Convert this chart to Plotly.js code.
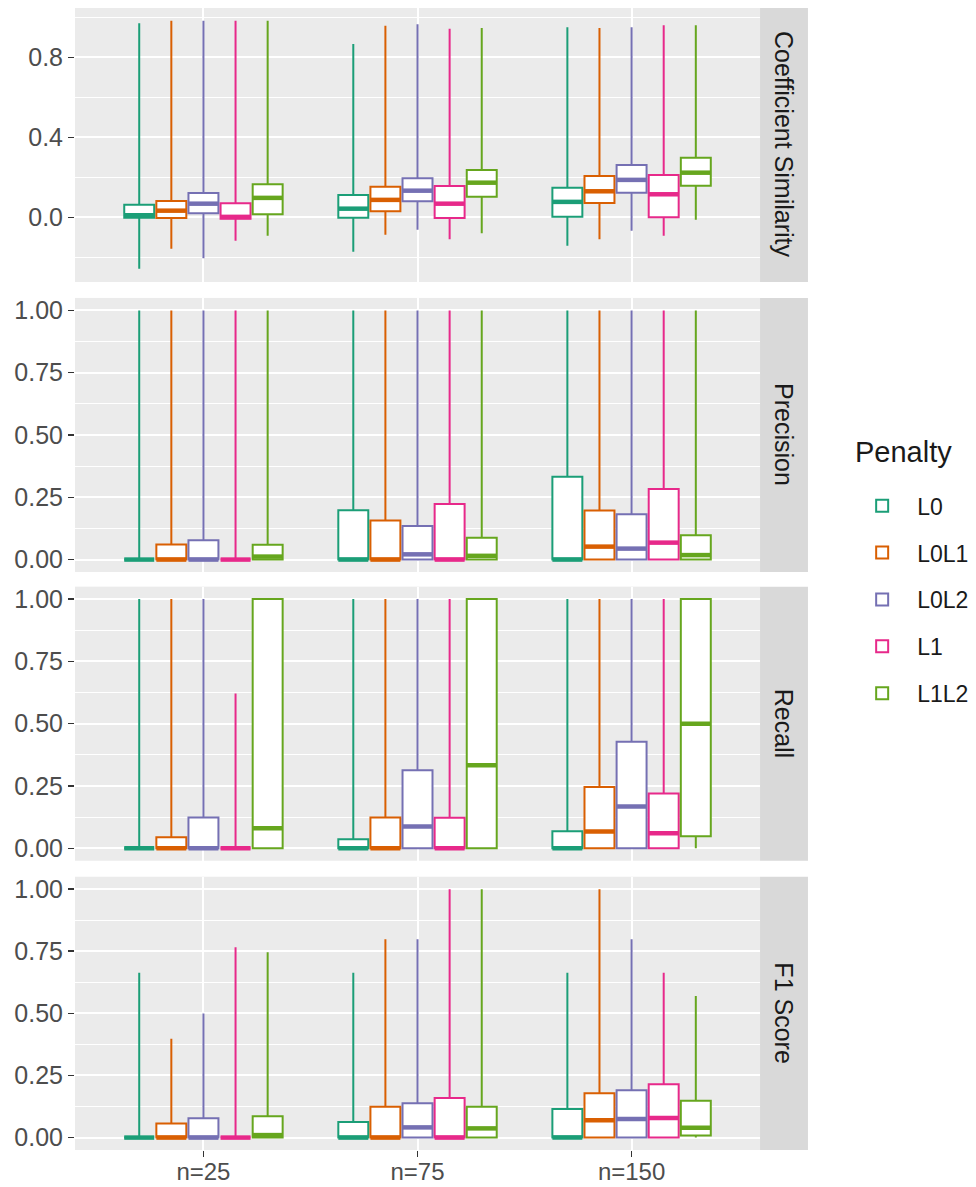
<!DOCTYPE html>
<html>
<head>
<meta charset="utf-8">
<script src="https://cdn.plot.ly/plotly-3.0.1.min.js"></script>
<style>html,body{margin:0;padding:0;background:#fff;}#chart{width:976px;height:1187px;}</style>
</head>
<body>
<div id="chart"></div>
<script>
// ---------------- data ----------------
const groups = ["n=25", "n=75", "n=150"];
const penalties = ["L0", "L0L1", "L0L2", "L1", "L1L2"];
const colors = ["#1B9E77", "#D95F02", "#7570B3", "#E7298A", "#66A61E"];
const metrics = ["Coefficient Similarity", "Precision", "Recall", "F1 Score"];

// rows: penalties (L0, L0L1, L0L2, L1, L1L2); columns: n=25, n=75, n=150
const coefLow  = [[-0.257,-0.172,-0.142],[-0.158,-0.088,-0.110],[-0.205,-0.063,-0.067],[-0.117,-0.110,-0.093],[-0.092,-0.080,-0.013]];
const coefQ1   = [[-0.003,-0.003,0.002],[-0.004,0.030,0.072],[0.020,0.080,0.123],[-0.008,-0.004,0.000],[0.015,0.103,0.158]];
const coefMed  = [[0.010,0.043,0.077],[0.033,0.087,0.130],[0.068,0.133,0.187],[0.002,0.068,0.115],[0.097,0.173,0.223]];
const coefQ3   = [[0.063,0.112,0.148],[0.082,0.153,0.207],[0.122,0.195,0.262],[0.070,0.157,0.212],[0.165,0.237,0.298]];
const coefHigh = [[0.970,0.867,0.950],[0.983,0.958,0.947],[0.983,0.965,0.950],[0.983,0.943,0.960],[0.983,0.947,0.960]];

const precLow  = [[0,0,0],[0,0,0],[0,0,0],[0,0,0],[0,0,0]];
const precQ1   = [[0,0,0],[0,0,0],[0,0,0],[0,0,0],[0,0,0]];
const precMed  = [[0,0,0],[0,0,0.052],[0,0.021,0.044],[0,0,0.068],[0.012,0.015,0.018]];
const precQ3   = [[0,0.198,0.332],[0.060,0.157,0.197],[0.078,0.135,0.182],[0,0.223,0.283],[0.059,0.088,0.098]];
const precHigh = [[1,1,1],[1,1,1],[1,1,1],[1,1,1],[1,1,1]];

const recLow  = [[0,0,0],[0,0,0],[0,0,0],[0,0,0],[0,0,0]];
const recQ1   = [[0,0,0],[0,0,0],[0,0,0],[0,0,0],[0,0,0.048]];
const recMed  = [[0,0,0],[0,0,0.067],[0,0.087,0.168],[0,0,0.060],[0.080,0.333,0.500]];
const recQ3   = [[0,0.036,0.068],[0.044,0.123,0.246],[0.123,0.313,0.428],[0,0.122,0.220],[1,1,1]];
const recHigh = [[1,1,1],[1,1,1],[1,1,1],[0.621,1,1],[1,1,1]];

const f1Low  = [[0,0,0],[0,0,0],[0,0,0],[0,0,0],[0,0,0]];
const f1Q1   = [[0,0,0],[0,0,0],[0,0,0],[0,0,0],[0,0,0.008]];
const f1Med  = [[0,0,0],[0,0,0.070],[0,0.041,0.075],[0,0,0.079],[0.010,0.037,0.040]];
const f1Q3   = [[0,0.063,0.115],[0.057,0.124,0.178],[0.078,0.138,0.191],[0,0.159,0.215],[0.086,0.124,0.148]];
const f1High = [[0.663,0.663,0.663],[0.398,0.798,1.000],[0.499,0.798,0.798],[0.766,1.000,0.663],[0.746,1.000,0.570]];

const coefTicks = [0, 0.4, 0.8];
const coefTickText = ["0.0", "0.4", "0.8"];
const rateTicks = [0, 0.25, 0.5, 0.75, 1];
const rateTickText = ["0.00", "0.25", "0.50", "0.75", "1.00"];
const legendTitle = "Penalty";

// ---------------- layout helpers ----------------
const stats = [
  {low: coefLow, q1: coefQ1, med: coefMed, q3: coefQ3, high: coefHigh},
  {low: precLow, q1: precQ1, med: precMed, q3: precQ3, high: precHigh},
  {low: recLow,  q1: recQ1,  med: recMed,  q3: recQ3,  high: recHigh},
  {low: f1Low,   q1: f1Q1,   med: f1Med,   q3: f1Q3,   high: f1High}
];
const yDomains = [[0.7601, 1.0], [0.5061, 0.7461], [0.2533, 0.4933], [0.0, 0.2393]];
const yRanges = [[-0.3235, 1.0465], [-0.05, 1.05], [-0.05, 1.05], [-0.05, 1.05]];
const xDomain = [0, 0.7603];
const stripX = [0.7603, 0.8135];
const dodge = 0.15, boxW = 0.14;

const traces = [];
const medianTraces = [];
stats.forEach((s, p) => {
  const xa = p === 0 ? "x" : "x" + (p + 1);
  const ya = p === 0 ? "y" : "y" + (p + 1);
  penalties.forEach((pen, k) => {
    const xs = groups.map((g, i) => i + 1 + (k - 2) * dodge);
    traces.push({
      type: "box",
      name: pen,
      legendgroup: pen,
      showlegend: p === 0,
      xaxis: xa, yaxis: ya,
      x: xs,
      q1: s.q1[k], median: s.med[k], q3: s.q3[k],
      lowerfence: s.low[k], upperfence: s.high[k],
      width: boxW,
      whiskerwidth: 0,
      boxpoints: false,
      fillcolor: "white",
      line: {color: colors[k], width: 2},
      hoverinfo: "skip"
    });
    const mx = [], my = [];
    xs.forEach((c, i) => { mx.push(c - boxW / 2, c + boxW / 2, null); my.push(s.med[k][i], s.med[k][i], null); });
    medianTraces.push({
      type: "scatter", mode: "lines",
      x: mx, y: my, xaxis: xa, yaxis: ya,
      line: {color: colors[k], width: 4.5},
      showlegend: false, legendgroup: pen, hoverinfo: "skip"
    });
  });
});

const tickFont = {family: "Liberation Sans, Arial, sans-serif", size: 25, color: "#4D4D4D"};
const xTickFont = {family: "Liberation Sans, Arial, sans-serif", size: 24, color: "#4D4D4D"};
const layout = {
  width: 976, height: 1187,
  margin: {l: 75, r: 0, t: 8, b: 37},
  paper_bgcolor: "white",
  plot_bgcolor: "#EBEBEB",
  boxmode: "overlay",
  showlegend: true,
  font: {family: "Liberation Sans, Arial, sans-serif", color: "#1A1A1A"},
  legend: {
    x: 0.857, xanchor: "left", y: 0.583, yanchor: "top",
    itemwidth: 60, tracegroupgap: 14,
    font: {size: 23, color: "#1A1A1A"},
    bgcolor: "rgba(0,0,0,0)"
  },
  shapes: [],
  annotations: [{
    xref: "paper", yref: "paper",
    x: (853 - 75) / 901, y: (1150 - 452) / 1142,
    xanchor: "left", yanchor: "middle",
    text: legendTitle, showarrow: false,
    font: {size: 29, color: "#1A1A1A"}
  }]
};

for (let p = 0; p < 4; p++) {
  const xk = p === 0 ? "xaxis" : "xaxis" + (p + 1);
  const yk = p === 0 ? "yaxis" : "yaxis" + (p + 1);
  const ya = p === 0 ? "y" : "y" + (p + 1);
  const xa = p === 0 ? "x" : "x" + (p + 1);
  const last = p === 3;
  layout[xk] = {
    domain: xDomain, anchor: ya, range: [0.4, 3.6],
    tickvals: [1, 2, 3], ticktext: groups,
    showticklabels: last, ticks: last ? "outside" : "",
    ticklen: 6, tickwidth: 1.5, tickcolor: "#333333",
    ticklabelstandoff: -6,
    tickfont: xTickFont,
    showgrid: true, gridcolor: "white", gridwidth: 2,
    zeroline: false, showline: false, fixedrange: true
  };
  const isCoef = p === 0;
  layout[yk] = {
    domain: yDomains[p], anchor: xa, range: yRanges[p],
    tickvals: isCoef ? coefTicks : rateTicks,
    ticktext: isCoef ? coefTickText : rateTickText,
    ticks: "outside", ticklen: 6, tickwidth: 1.5, tickcolor: "#333333",
    tickfont: tickFont,
    showgrid: true, gridcolor: "white", gridwidth: 2,
    minor: isCoef
      ? {tick0: 0.2, dtick: 0.4, showgrid: true, gridcolor: "white", gridwidth: 1, ticks: ""}
      : {tick0: 0.125, dtick: 0.25, showgrid: true, gridcolor: "white", gridwidth: 1, ticks: ""},
    zeroline: false, showline: false, fixedrange: true
  };
  layout.shapes.push({
    type: "rect", xref: "paper", yref: "paper",
    x0: stripX[0], x1: stripX[1], y0: yDomains[p][0], y1: yDomains[p][1],
    fillcolor: "#D9D9D9", line: {width: 0}
  });
  layout.annotations.push({
    xref: "paper", yref: "paper",
    x: (stripX[0] + stripX[1]) / 2, y: (yDomains[p][0] + yDomains[p][1]) / 2,
    text: metrics[p], textangle: 90, showarrow: false,
    font: {size: 25, color: "#1A1A1A"},
    xanchor: "center", yanchor: "middle"
  });
}

Plotly.newPlot("chart", traces.concat(medianTraces), layout, {displayModeBar: false, staticPlot: true});
</script>
</body>
</html>
